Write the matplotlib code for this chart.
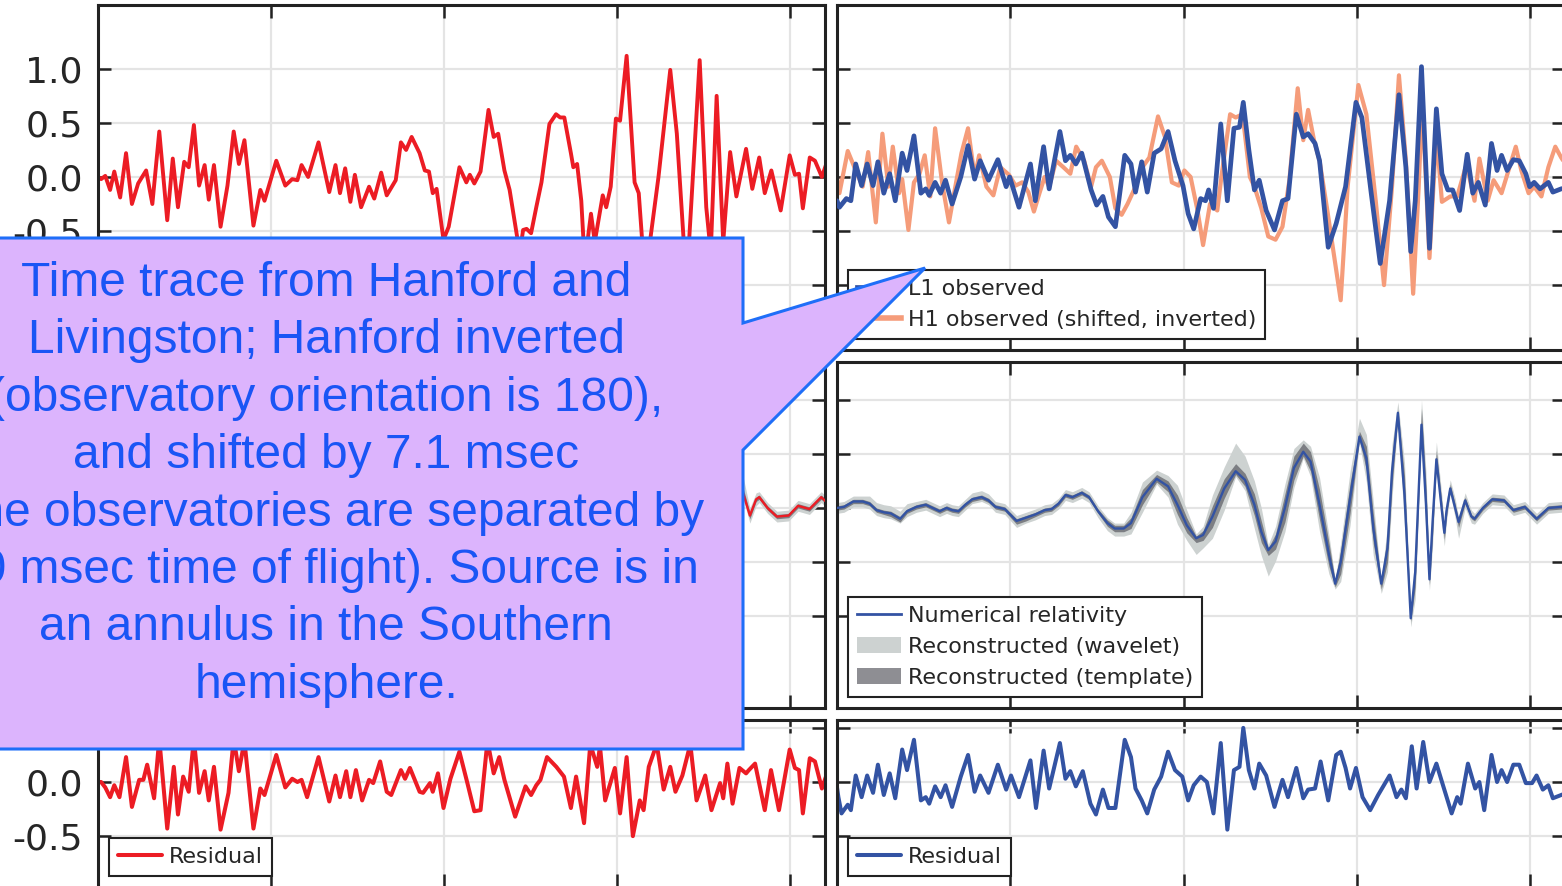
import numpy as np
import matplotlib
matplotlib.use("Agg")
import matplotlib.pyplot as plt
from matplotlib.patches import Polygon, Patch
from matplotlib.lines import Line2D
from matplotlib.ticker import FormatStrFormatter

# ---------------- data (time in s, strain in 1e-21) ----------------
# H1 observed (Hanford)
h1_t = [0.2500, 0.2509, 0.2521, 0.2535, 0.2547, 0.2564, 0.2581, 0.2598, 0.2616, 0.2639,
        0.2657, 0.2677, 0.2700, 0.2716, 0.2731, 0.2749, 0.2762, 0.2777, 0.2792, 0.2808,
        0.2820, 0.2835, 0.2854, 0.2874, 0.2892, 0.2907, 0.2923, 0.2949, 0.2969, 0.2981,
        0.3015, 0.3041, 0.3061, 0.3076, 0.3088, 0.3107, 0.3137, 0.3168, 0.3186, 0.3199,
        0.3214, 0.3229, 0.3242, 0.3260, 0.3283, 0.3298, 0.3318, 0.3334, 0.3360, 0.3375,
        0.3390, 0.3406, 0.3429, 0.3444, 0.3456, 0.3467, 0.3478, 0.3498, 0.3513, 0.3544,
        0.3564, 0.3574, 0.3587, 0.3605, 0.3628, 0.3643, 0.3656, 0.3674, 0.3689, 0.3712,
        0.3722, 0.3728, 0.3738, 0.3751, 0.3766, 0.3781, 0.3804, 0.3823, 0.3835, 0.3847,
        0.3866, 0.3873, 0.3884, 0.3896, 0.3906, 0.3924, 0.3935, 0.3958, 0.3968, 0.3981,
        0.3996, 0.4008, 0.4027, 0.4050, 0.4062, 0.4080, 0.4119, 0.4153, 0.4172, 0.4200,
        0.4238, 0.4257, 0.4270, 0.4287, 0.4306, 0.4326, 0.4344, 0.4372, 0.4390, 0.4410,
        0.4426, 0.4445, 0.4472, 0.4498, 0.4513, 0.4525, 0.4536, 0.4556, 0.4571, 0.4591,
        0.4610]
h1_v = [0.00, -0.02, 0.01, -0.12, 0.05, -0.19, 0.22, -0.25, -0.06, 0.06,
        -0.25, 0.42, -0.40, 0.17, -0.28, 0.14, 0.09, 0.48, -0.08, 0.11,
        -0.21, 0.11, -0.46, -0.08, 0.42, 0.12, 0.34, -0.45, -0.12, -0.22,
        0.15, -0.08, -0.02, -0.03, 0.11, 0.00, 0.32, -0.14, 0.11, -0.15,
        0.08, -0.23, 0.02, -0.28, -0.09, -0.20, 0.04, -0.17, -0.03, 0.32,
        0.25, 0.37, 0.22, 0.06, 0.05, -0.15, -0.11, -0.58, -0.46, 0.09,
        -0.05, 0.02, -0.06, 0.05, 0.62, 0.37, 0.40, 0.06, -0.12, -0.58,
        -0.62, -0.49, -0.48, -0.52, -0.28, -0.05, 0.49, 0.58, 0.55, 0.55,
        0.22, 0.09, 0.12, -0.22, -0.80, -0.34, -0.60, -0.17, -0.28, -0.09,
        0.54, 0.52, 1.12, -0.05, -0.15, -0.95, 0.00, 0.99, 0.40, -1.00,
        1.08, -0.28, -0.70, 0.75, -0.60, 0.23, -0.18, 0.26, -0.11, 0.18,
        -0.15, 0.06, -0.31, 0.20, 0.02, 0.03, -0.29, 0.18, 0.15, 0.00,
        0.18]

# H1 observed, shifted by 7.1 ms and inverted (as drawn in the right panel)
h1s_t = [0.2429, 0.2438, 0.2452, 0.2464, 0.2475, 0.2491, 0.2507, 0.2531, 0.2554, 0.2574,
         0.2590, 0.2612, 0.2631, 0.2648, 0.2661, 0.2679, 0.2688, 0.2706, 0.2722, 0.2738,
         0.2753, 0.2769, 0.2783, 0.2803, 0.2823, 0.2843, 0.2859, 0.2878, 0.2897, 0.2910,
         0.2931, 0.2951, 0.2971, 0.2996, 0.3015, 0.3034, 0.3052, 0.3068, 0.3085, 0.3099,
         0.3112, 0.3132, 0.3153, 0.3173, 0.3190, 0.3213, 0.3233, 0.3247, 0.3264, 0.3287,
         0.3303, 0.3321, 0.3338, 0.3361, 0.3381, 0.3401, 0.3426, 0.3446, 0.3466, 0.3486,
         0.3502, 0.3520, 0.3540, 0.3556, 0.3576, 0.3597, 0.3610, 0.3634, 0.3650, 0.3670,
         0.3691, 0.3704, 0.3724, 0.3744, 0.3765, 0.3785, 0.3805, 0.3829, 0.3845, 0.3859,
         0.3876, 0.3892, 0.3913, 0.3933, 0.3953, 0.3973, 0.4004, 0.4027, 0.4054, 0.4078,
         0.4101, 0.4121, 0.4141, 0.4162, 0.4178, 0.4188, 0.4209, 0.4229, 0.4245, 0.4269,
         0.4289, 0.4316, 0.4339, 0.4353, 0.4377, 0.4394, 0.4417, 0.4437, 0.4458, 0.4474,
         0.4495, 0.4511, 0.4532, 0.4552, 0.4572, 0.4589, 0.4605]
h1s_v = [0.01, 0.01, 0.00, 0.10, -0.05, 0.19, -0.15, 0.24, 0.06, -0.09,
         0.23, -0.42, 0.40, -0.09, 0.28, -0.15, -0.02, -0.49, -0.05, 0.03,
         0.20, -0.18, 0.45, -0.05, -0.42, -0.06, 0.22, 0.45, 0.00, 0.20,
         -0.09, -0.17, 0.09, 0.02, -0.08, -0.05, -0.14, -0.32, -0.14, 0.00,
         -0.09, 0.15, 0.09, 0.03, 0.28, 0.15, -0.09, 0.09, 0.15, 0.00,
         -0.29, -0.35, -0.25, -0.09, 0.09, 0.18, 0.56, 0.37, -0.05, -0.08,
         0.06, 0.00, -0.31, -0.63, -0.25, -0.31, 0.03, 0.58, 0.55, 0.58,
         0.00, -0.09, -0.29, -0.55, -0.58, -0.46, -0.03, 0.82, 0.34, 0.62,
         0.34, 0.15, -0.28, -0.71, -1.14, -0.09, 0.85, 0.58, -0.22, -1.00,
         -0.09, 0.94, 0.15, -1.08, -0.09, 0.71, -0.75, 0.40, -0.23, -0.18,
         -0.18, 0.12, -0.22, 0.17, -0.22, -0.03, -0.15, 0.06, 0.28, 0.06,
         -0.15, -0.09, -0.18, 0.09, 0.28, 0.18, 0.10]

# L1 observed (Livingston)
l1_t = [0.2500, 0.2507, 0.2527, 0.2540, 0.2554, 0.2571, 0.2587, 0.2604, 0.2618, 0.2635,
        0.2652, 0.2668, 0.2688, 0.2702, 0.2722, 0.2742, 0.2756, 0.2766, 0.2783, 0.2799,
        0.2813, 0.2832, 0.2857, 0.2878, 0.2897, 0.2913, 0.2937, 0.2964, 0.2988, 0.2998,
        0.3025, 0.3058, 0.3072, 0.3096, 0.3112, 0.3143, 0.3159, 0.3173, 0.3189, 0.3206,
        0.3233, 0.3249, 0.3267, 0.3283, 0.3303, 0.3330, 0.3348, 0.3361, 0.3379, 0.3395,
        0.3415, 0.3435, 0.3455, 0.3475, 0.3498, 0.3513, 0.3529, 0.3549, 0.3563, 0.3572,
        0.3586, 0.3607, 0.3626, 0.3645, 0.3661, 0.3672, 0.3688, 0.3704, 0.3718, 0.3738,
        0.3762, 0.3785, 0.3801, 0.3825, 0.3845, 0.3859, 0.3879, 0.3892, 0.3917, 0.3940,
        0.3967, 0.3997, 0.4014, 0.4041, 0.4067, 0.4094, 0.4121, 0.4141, 0.4155, 0.4168,
        0.4186, 0.4209, 0.4229, 0.4245, 0.4262, 0.4276, 0.4296, 0.4318, 0.4334, 0.4350,
        0.4370, 0.4388, 0.4404, 0.4417, 0.4433, 0.4451, 0.4468, 0.4487, 0.4498, 0.4511,
        0.4528, 0.4552, 0.4565, 0.4589, 0.4605]
l1_v = [-0.22, -0.28, -0.20, -0.22, 0.12, -0.08, 0.12, -0.08, 0.14, -0.15,
        0.03, -0.22, 0.22, 0.06, 0.38, -0.15, -0.11, -0.17, -0.05, -0.15,
        -0.03, -0.25, 0.00, 0.29, -0.02, 0.15, -0.03, 0.16, -0.09, 0.00,
        -0.28, 0.12, -0.22, 0.28, -0.11, 0.42, 0.15, 0.20, 0.12, 0.22,
        -0.12, -0.26, -0.18, -0.37, -0.46, 0.20, 0.12, -0.14, 0.14, -0.14,
        0.22, 0.26, 0.42, 0.15, -0.08, -0.34, -0.48, -0.20, -0.22, -0.12,
        -0.29, 0.49, -0.22, 0.45, 0.46, 0.69, 0.25, -0.12, -0.03, -0.31,
        -0.49, -0.22, -0.20, 0.58, 0.37, 0.40, 0.31, 0.15, -0.65, -0.43,
        -0.09, 0.69, 0.55, -0.15, -0.80, -0.22, 0.76, 0.09, -0.69, -0.22,
        1.02, -0.66, 0.63, 0.03, -0.12, -0.12, -0.31, 0.21, -0.15, -0.05,
        -0.26, 0.31, 0.06, 0.20, 0.06, 0.16, 0.15, 0.03, -0.09, -0.05,
        -0.11, -0.05, -0.14, -0.11, -0.10]

# Numerical relativity waveform (L1) and reconstruction bands (offsets below / above NR)
nr_t = [0.2500, 0.2520, 0.2547, 0.2574, 0.2594, 0.2614, 0.2635, 0.2655, 0.2682, 0.2702,
        0.2729, 0.2756, 0.2776, 0.2796, 0.2816, 0.2832, 0.2850, 0.2870, 0.2890, 0.2917,
        0.2937, 0.2957, 0.2984, 0.3018, 0.3045, 0.3072, 0.3099, 0.3119, 0.3139, 0.3159,
        0.3179, 0.3206, 0.3227, 0.3253, 0.3280, 0.3301, 0.3327, 0.3348, 0.3381, 0.3422,
        0.3455, 0.3482, 0.3509, 0.3536, 0.3556, 0.3583, 0.3617, 0.3650, 0.3677, 0.3704,
        0.3724, 0.3744, 0.3765, 0.3792, 0.3818, 0.3845, 0.3866, 0.3892, 0.3919, 0.3937,
        0.3953, 0.3980, 0.4007, 0.4027, 0.4047, 0.4070, 0.4088, 0.4101, 0.4118, 0.4137,
        0.4155, 0.4168, 0.4186, 0.4199, 0.4209, 0.4218, 0.4229, 0.4245, 0.4252, 0.4258,
        0.4269, 0.4283, 0.4293, 0.4312, 0.4330, 0.4339, 0.4363, 0.4390, 0.4424, 0.4451,
        0.4484, 0.4518, 0.4552, 0.4589, 0.4605]
nr_v = [0.00, 0.01, 0.06, 0.06, 0.04, -0.02, -0.04, -0.05, -0.10, -0.03,
        0.01, 0.03, 0.00, -0.03, 0.00, -0.02, -0.03, 0.03, 0.08, 0.10,
        0.07, 0.01, -0.01, -0.12, -0.09, -0.06, -0.02, -0.01, 0.04, 0.12,
        0.10, 0.14, 0.10, -0.03, -0.14, -0.19, -0.19, -0.14, 0.10, 0.27,
        0.20, 0.03, -0.16, -0.28, -0.25, -0.08, 0.18, 0.34, 0.26, 0.03,
        -0.22, -0.39, -0.31, 0.00, 0.37, 0.52, 0.43, 0.03, -0.43, -0.70,
        -0.50, 0.09, 0.66, 0.46, -0.19, -0.70, -0.37, 0.34, 0.88, 0.12,
        -1.02, -0.59, 0.77, 0.03, -0.66, -0.13, 0.45, -0.03, -0.23, -0.03,
        0.18, 0.00, -0.13, 0.07, -0.08, -0.10, 0.00, 0.08, 0.07, -0.02,
        0.01, -0.10, 0.00, 0.01, 0.01]
wav_below = [0.05, 0.05, 0.05, 0.05, 0.05, 0.05, 0.05, 0.05, 0.04, 0.05,
             0.05, 0.05, 0.05, 0.05, 0.05, 0.05, 0.05, 0.05, 0.04, 0.04,
             0.04, 0.05, 0.05, 0.06, 0.05, 0.05, 0.05, 0.05, 0.05, 0.05,
             0.05, 0.05, 0.05, 0.06, 0.07, 0.07, 0.07, 0.10, 0.14, 0.05,
             0.10, 0.18, 0.14, 0.15, 0.12, 0.20, 0.20, 0.05, 0.10, 0.22,
             0.22, 0.24, 0.18, 0.22, 0.18, 0.06, 0.14, 0.25, 0.18, 0.05,
             0.18, 0.25, 0.06, 0.22, 0.25, 0.09, 0.22, 0.25, 0.06, 0.30,
             0.08, 0.25, 0.06, 0.30, 0.10, 0.22, 0.06, 0.14, 0.12, 0.10,
             0.05, 0.09, 0.15, 0.07, 0.06, 0.05, 0.05, 0.05, 0.05, 0.05,
             0.05, 0.05, 0.05, 0.05, 0.05]
wav_above = [0.05, 0.05, 0.05, 0.05, 0.07, 0.07, 0.07, 0.07, 0.07, 0.07,
             0.05, 0.05, 0.05, 0.05, 0.05, 0.05, 0.05, 0.05, 0.06, 0.06,
             0.06, 0.05, 0.05, 0.05, 0.05, 0.05, 0.05, 0.05, 0.05, 0.05,
             0.05, 0.05, 0.05, 0.05, 0.05, 0.05, 0.05, 0.10, 0.14, 0.08,
             0.10, 0.18, 0.14, 0.04, 0.08, 0.20, 0.20, 0.26, 0.22, 0.22,
             0.22, 0.05, 0.14, 0.22, 0.18, 0.11, 0.14, 0.25, 0.18, 0.04,
             0.18, 0.25, 0.17, 0.22, 0.25, 0.03, 0.22, 0.25, 0.10, 0.30,
             0.03, 0.25, 0.23, 0.30, 0.05, 0.22, 0.16, 0.14, 0.06, 0.10,
             0.08, 0.09, 0.05, 0.07, 0.06, 0.05, 0.05, 0.05, 0.05, 0.05,
             0.05, 0.05, 0.05, 0.05, 0.05]
tpl_below = [0.02, 0.02, 0.02, 0.02, 0.02, 0.02, 0.02, 0.03, 0.03, 0.02,
             0.02, 0.02, 0.02, 0.02, 0.02, 0.02, 0.02, 0.02, 0.02, 0.02,
             0.02, 0.02, 0.02, 0.03, 0.03, 0.02, 0.02, 0.02, 0.02, 0.02,
             0.02, 0.02, 0.02, 0.02, 0.03, 0.03, 0.03, 0.05, 0.07, 0.03,
             0.05, 0.09, 0.07, 0.04, 0.05, 0.10, 0.09, 0.03, 0.06, 0.10,
             0.10, 0.05, 0.07, 0.13, 0.11, 0.04, 0.09, 0.14, 0.11, 0.03,
             0.11, 0.14, 0.03, 0.11, 0.14, 0.05, 0.13, 0.14, 0.03, 0.18,
             0.03, 0.14, 0.05, 0.18, 0.05, 0.13, 0.03, 0.07, 0.06, 0.05,
             0.02, 0.04, 0.05, 0.03, 0.02, 0.02, 0.02, 0.02, 0.02, 0.02,
             0.02, 0.02, 0.02, 0.02, 0.02]
tpl_above = [0.02, 0.02, 0.02, 0.02, 0.02, 0.02, 0.02, 0.02, 0.02, 0.02,
             0.02, 0.02, 0.02, 0.02, 0.02, 0.02, 0.02, 0.02, 0.02, 0.02,
             0.02, 0.02, 0.02, 0.02, 0.02, 0.02, 0.02, 0.02, 0.02, 0.02,
             0.02, 0.02, 0.02, 0.02, 0.03, 0.03, 0.03, 0.05, 0.07, 0.04,
             0.05, 0.09, 0.07, 0.02, 0.04, 0.10, 0.09, 0.07, 0.06, 0.10,
             0.10, 0.02, 0.07, 0.13, 0.11, 0.08, 0.09, 0.14, 0.11, 0.03,
             0.11, 0.14, 0.05, 0.11, 0.14, 0.02, 0.13, 0.14, 0.03, 0.18,
             0.02, 0.14, 0.15, 0.18, 0.05, 0.13, 0.08, 0.07, 0.04, 0.05,
             0.04, 0.04, 0.02, 0.03, 0.02, 0.02, 0.02, 0.02, 0.02, 0.02,
             0.02, 0.02, 0.02, 0.02, 0.02]

# Residuals
h1_res_t = [0.2500, 0.2509, 0.2521, 0.2535, 0.2547, 0.2562, 0.2581, 0.2598, 0.2619, 0.2631,
            0.2642, 0.2662, 0.2677, 0.2700, 0.2719, 0.2731, 0.2746, 0.2762, 0.2777, 0.2792,
            0.2808, 0.2820, 0.2835, 0.2854, 0.2877, 0.2892, 0.2907, 0.2923, 0.2949, 0.2969,
            0.2981, 0.3015, 0.3041, 0.3061, 0.3076, 0.3088, 0.3104, 0.3137, 0.3168, 0.3186,
            0.3199, 0.3217, 0.3229, 0.3245, 0.3263, 0.3283, 0.3295, 0.3315, 0.3334, 0.3347,
            0.3375, 0.3387, 0.3401, 0.3429, 0.3439, 0.3459, 0.3467, 0.3482, 0.3498, 0.3518,
            0.3544, 0.3567, 0.3587, 0.3605, 0.3625, 0.3643, 0.3659, 0.3674, 0.3705, 0.3735,
            0.3751, 0.3766, 0.3778, 0.3797, 0.3824, 0.3846, 0.3866, 0.3881, 0.3904, 0.3922,
            0.3942, 0.3950, 0.3965, 0.3993, 0.4008, 0.4027, 0.4045, 0.4065, 0.4076, 0.4091,
            0.4114, 0.4134, 0.4153, 0.4168, 0.4188, 0.4211, 0.4229, 0.4254, 0.4272, 0.4297,
            0.4306, 0.4318, 0.4333, 0.4353, 0.4372, 0.4380, 0.4398, 0.4426, 0.4444, 0.4467,
            0.4498, 0.4513, 0.4525, 0.4536, 0.4556, 0.4571, 0.4591, 0.4606]
h1_res_v = [0.00, 0.00, -0.05, -0.14, -0.03, -0.14, 0.23, -0.23, 0.02, 0.02,
            0.16, -0.15, 0.40, -0.43, 0.14, -0.30, 0.05, -0.09, 0.40, -0.10,
            0.10, -0.17, 0.14, -0.44, -0.10, 0.40, 0.10, 0.38, -0.43, -0.06,
            -0.12, 0.25, -0.05, 0.03, 0.00, 0.02, -0.14, 0.23, -0.18, 0.06,
            -0.14, 0.10, -0.14, 0.11, -0.17, 0.02, -0.01, 0.19, -0.09, -0.12,
            0.11, 0.03, 0.13, -0.09, -0.10, -0.01, -0.09, 0.08, -0.24, 0.03,
            0.28, -0.01, -0.27, -0.26, 0.38, 0.08, 0.23, 0.02, -0.32, -0.04,
            -0.12, -0.03, 0.02, 0.23, 0.14, 0.05, -0.24, 0.05, -0.38, 0.35,
            0.14, 0.33, -0.17, 0.13, -0.29, 0.23, -0.50, -0.17, -0.26, 0.14,
            0.35, -0.07, 0.14, -0.09, 0.06, 0.35, -0.17, 0.06, -0.26, -0.01,
            -0.15, 0.17, -0.20, 0.13, 0.08, 0.11, 0.17, -0.26, 0.11, -0.26,
            0.30, 0.13, 0.11, -0.29, 0.22, 0.19, -0.06, 0.08]

l1_res_t = [0.2500, 0.2504, 0.2513, 0.2531, 0.2540, 0.2554, 0.2571, 0.2587, 0.2604, 0.2618,
            0.2635, 0.2652, 0.2668, 0.2688, 0.2702, 0.2722, 0.2742, 0.2756, 0.2766, 0.2783,
            0.2799, 0.2813, 0.2832, 0.2857, 0.2878, 0.2897, 0.2913, 0.2937, 0.2964, 0.2988,
            0.3002, 0.3025, 0.3058, 0.3074, 0.3096, 0.3112, 0.3143, 0.3159, 0.3173, 0.3189,
            0.3209, 0.3231, 0.3247, 0.3267, 0.3283, 0.3303, 0.3330, 0.3348, 0.3361, 0.3379,
            0.3395, 0.3415, 0.3435, 0.3455, 0.3475, 0.3496, 0.3513, 0.3529, 0.3549, 0.3567,
            0.3586, 0.3607, 0.3626, 0.3645, 0.3661, 0.3672, 0.3688, 0.3704, 0.3718, 0.3738,
            0.3762, 0.3785, 0.3801, 0.3825, 0.3845, 0.3859, 0.3879, 0.3895, 0.3917, 0.3940,
            0.3953, 0.3967, 0.3980, 0.3997, 0.4016, 0.4038, 0.4061, 0.4094, 0.4114, 0.4128,
            0.4141, 0.4158, 0.4172, 0.4191, 0.4209, 0.4229, 0.4249, 0.4273, 0.4289, 0.4299,
            0.4320, 0.4341, 0.4353, 0.4367, 0.4388, 0.4404, 0.4417, 0.4433, 0.4451, 0.4468,
            0.4487, 0.4505, 0.4518, 0.4536, 0.4552, 0.4565, 0.4589, 0.4605]
l1_res_v = [-0.05, -0.14, -0.29, -0.21, -0.26, 0.06, -0.14, 0.06, -0.10, 0.16,
            -0.12, 0.08, -0.15, 0.30, 0.11, 0.39, -0.17, -0.14, -0.20, -0.04,
            -0.14, -0.03, -0.23, 0.05, 0.25, -0.09, 0.06, -0.10, 0.16, -0.07,
            0.06, -0.14, 0.20, -0.24, 0.29, -0.06, 0.36, 0.03, 0.10, -0.04,
            0.10, -0.20, -0.30, -0.07, -0.24, -0.24, 0.39, 0.23, -0.06, -0.17,
            -0.29, -0.07, 0.05, 0.28, 0.11, 0.05, -0.17, -0.03, 0.05, 0.00,
            -0.29, 0.36, -0.44, 0.11, 0.14, 0.50, 0.11, -0.06, 0.17, 0.06,
            -0.23, 0.02, -0.14, 0.13, -0.15, -0.07, -0.06, 0.19, -0.17, 0.25,
            0.28, 0.13, -0.06, 0.13, -0.14, -0.26, -0.12, 0.06, -0.14, -0.07,
            -0.15, 0.33, -0.06, 0.37, 0.00, 0.17, -0.04, -0.29, -0.14, -0.20,
            0.17, -0.06, 0.00, -0.26, 0.25, 0.00, 0.11, 0.00, 0.16, 0.16,
            -0.01, -0.01, 0.06, -0.07, -0.03, -0.15, -0.12, -0.10]

h1_shift = 0.0071          # H1 lags L1 by 7.1 ms
x_ticks = [0.25, 0.30, 0.35, 0.40, 0.45]
main_ticks = [-1.0, -0.5, 0.0, 0.5, 1.0]
res_ticks = [-0.5, 0.0, 0.5]

callout_lines = ["Time trace from Hanford and",
                 "Livingston; Hanford inverted",
                 "(observatory orientation is 180),",
                 "and shifted by 7.1 msec",
                 "(the observatories are separated by",
                 "10 msec time of flight). Source is in",
                 "an annulus in the Southern",
                 "hemisphere."]

# ---------------- styling ----------------
RED = '#ec1c24'
BLUE = '#3353a3'
ORANGE = '#f59c7a'
LIGHT = '#cdd2d1'
DARK = '#7c7e83'
INK = '#222222'

plt.rcParams['font.family'] = ['DejaVu Sans']
plt.rcParams['axes.unicode_minus'] = False

W, H = 1562, 886
fig = plt.figure(figsize=(W / 100, H / 100), dpi=100)
fig.patch.set_facecolor('white')


def px_axes(x0, x1, y0, y1):
    return fig.add_axes([x0 / W, 1 - y1 / H, (x1 - x0) / W, (y1 - y0) / H])


def style(ax, yticks, ylim, labels):
    ax.set_xlim(0.25, 0.46)
    ax.set_ylim(*ylim)
    ax.set_xticks(x_ticks)
    ax.set_yticks(yticks)
    ax.yaxis.set_major_formatter(FormatStrFormatter('%.1f'))
    ax.tick_params(direction='in', length=9.5, width=1.8, color=INK,
                   top=True, right=True, labelbottom=False, labelleft=labels,
                   labelsize=26, pad=11, labelcolor='#262626')
    ax.grid(True, color='#e4e4e4', lw=1.6)
    ax.set_axisbelow(True)
    for s in ax.spines.values():
        s.set_linewidth(2.2)
        s.set_color(INK)


def legend(ax, handles=None):
    kw = dict(loc='lower left', fontsize=16, frameon=True, fancybox=False,
              edgecolor=INK, framealpha=1, borderaxespad=0.5, handlelength=2.0,
              handletextpad=0.3)
    leg = ax.legend(handles=handles, **kw) if handles else ax.legend(**kw)
    leg.get_frame().set_linewidth(1.5)
    for t in leg.get_texts():
        t.set_color('#262626')
    return leg


LX, RX = (98, 825), (837, 1565)
ROWS = [(5, 350), (362, 708), (720, 887)]
YL_TOP, YL_MID, YL_BOT = (-1.6, 1.59), (-1.85, 1.35), (-0.97, 0.573)

nr_t_a = np.array(nr_t)
nr_v_a = np.array(nr_v)
wav_lo = nr_v_a - np.array(wav_below)
wav_hi = nr_v_a + np.array(wav_above)
tpl_lo = nr_v_a - np.array(tpl_below)
tpl_hi = nr_v_a + np.array(tpl_above)

LINE_KW = dict(solid_joinstyle='round', solid_capstyle='round')

# --- top left: H1 observed
ax = px_axes(*LX, *ROWS[0])
style(ax, main_ticks, YL_TOP, True)
ax.plot(h1_t, h1_v, color=RED, lw=2.8, **LINE_KW)

# --- top right: L1 observed + H1 shifted inverted
ax = px_axes(*RX, *ROWS[0])
style(ax, main_ticks, YL_TOP, False)
ax.plot(h1s_t, h1s_v, color=ORANGE, lw=3.0, zorder=2, **LINE_KW)
ax.plot(l1_t, l1_v, color=BLUE, lw=3.4, zorder=3, **LINE_KW)
legend(ax, handles=[Line2D([], [], color=BLUE, lw=3.4, label='L1 observed'),
                    Line2D([], [], color=ORANGE, lw=4.0, label='H1 observed (shifted, inverted)')])

# --- middle left: H1 NR (inverted and shifted L1 reconstruction); labels hidden by callout
ax = px_axes(*LX, *ROWS[1])
style(ax, main_ticks, YL_MID, False)
ax.fill_between(nr_t_a + h1_shift, -wav_hi, -wav_lo, color=LIGHT, lw=0, zorder=1)
ax.fill_between(nr_t_a + h1_shift, -tpl_hi, -tpl_lo, color=DARK, lw=0, zorder=2)
ax.plot(nr_t_a + h1_shift, -nr_v_a, color=RED, lw=1.7, zorder=3, **LINE_KW)

# --- middle right: L1 NR + reconstructions
ax = px_axes(*RX, *ROWS[1])
style(ax, main_ticks, YL_MID, False)
ax.fill_between(nr_t_a, wav_lo, wav_hi, color=LIGHT, lw=0, zorder=1)
ax.fill_between(nr_t_a, tpl_lo, tpl_hi, color=DARK, lw=0, zorder=2)
ax.plot(nr_t_a, nr_v_a, color=BLUE, lw=1.7, zorder=3, **LINE_KW)
legend(ax, handles=[Line2D([], [], color=BLUE, lw=2.0, label='Numerical relativity'),
                    Patch(facecolor=LIGHT, edgecolor='none', label='Reconstructed (wavelet)'),
                    Patch(facecolor='#8e8e93', edgecolor='none', label='Reconstructed (template)')])

# --- bottom left: H1 residual
ax = px_axes(*LX, *ROWS[2])
style(ax, res_ticks, YL_BOT, True)
ax.plot(h1_res_t, h1_res_v, color=RED, lw=2.9, label='Residual', **LINE_KW)
legend(ax)

# --- bottom right: L1 residual
ax = px_axes(*RX, *ROWS[2])
style(ax, res_ticks, YL_BOT, False)
ax.plot(l1_res_t, l1_res_v, color=BLUE, lw=2.9, label='Residual', **LINE_KW)
legend(ax)

# ---------------- callout ----------------
verts_px = [(-100, 238), (743, 238), (743, 323), (925, 268), (743, 450),
            (743, 749), (-100, 749)]
verts = [(x / W, 1 - y / H) for x, y in verts_px]
fig.add_artist(Polygon(verts, closed=True, transform=fig.transFigure,
                       facecolor='#dcb4fd', edgecolor='#1f6ef8', lw=2.2,
                       zorder=20, joinstyle='miter'))
for i, line in enumerate(callout_lines):
    y = 296 + i * 57.4
    fig.text(326 / W, 1 - y / H, line, ha='center', va='baseline',
             fontsize=34.5, family=['Liberation Sans', 'DejaVu Sans'],
             color='#1a55f5', zorder=21)

fig.savefig('out.png', dpi=100)
